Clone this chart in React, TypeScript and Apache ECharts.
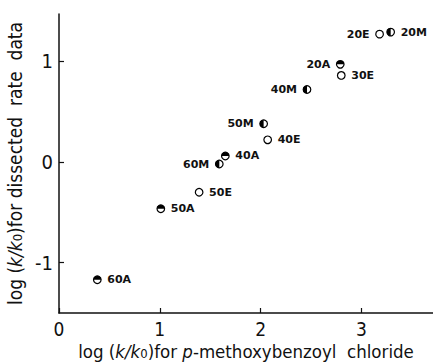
import React, { useEffect, useRef } from "react";
import * as echarts from "echarts";

const pointNames = ["60A", "50A", "50E", "60M", "40A", "40E", "50M", "40M", "30E", "20A", "20E", "20M"];
const xValues = [0.38, 1.01, 1.39, 1.59, 1.65, 2.07, 2.03, 2.46, 2.8, 2.79, 3.18, 3.29];
const yValues = [-1.17, -0.465, -0.3, -0.02, 0.06, 0.22, 0.38, 0.72, 0.86, 0.97, 1.27, 1.29];
// A = top half filled, M = left half filled, E = open
const markerKinds = ["A", "A", "E", "M", "A", "E", "M", "M", "E", "A", "E", "M"];
const labelSides = ["right", "right", "right", "left", "right", "right", "left", "left", "right", "left", "left", "right"];
const xTicks = [0, 1, 2, 3];
const yTicks = [-1, 0, 1];
const xTitle = "{n|log (}{i|k/k}{s|0}{n|)for }{i|p}{n|-methoxybenzoyl  chloride}";
const yTitle = "{n|log (}{i|k/k}{s|0}{n|)for dissected  rate  data}";

const titleFont = "'DejaVu Sans Condensed', 'DejaVu Sans', sans-serif";

function makeRich(size: number) {
  return {
    n: { fontFamily: titleFont, fontSize: size, fill: "#111", color: "#111", lineHeight: size + 1 },
    i: { fontFamily: titleFont, fontSize: size, fontStyle: "italic", fill: "#111", color: "#111", lineHeight: size + 1 },
    s: { fontFamily: titleFont, fontSize: Math.round(size * 0.68), fill: "#111", color: "#111", padding: [5, 0, 0, 0] },
  };
}

export default function App() {
  const ref = useRef<HTMLDivElement>(null);
  useEffect(() => {
    if (!ref.current) return;
    const chart = echarts.init(ref.current, null, { renderer: "svg" });
    const data = xValues.map((x, i) => [x, yValues[i]]);
    chart.setOption({
      animation: false,
      backgroundColor: "#fff",
      grid: { left: 59, right: 0, top: 14, bottom: 49, containLabel: false, outerBoundsMode: "none" },
      graphic: [
        {
          type: "text",
          x: 246,
          y: 351,
          style: {
            text: xTitle,
            rich: makeRich(18.5),
            align: "center",
            verticalAlign: "middle",
            fill: "#111",
          },
        },
      ],
      xAxis: {
        type: "value",
        min: 0,
        max: 3.71,
        splitLine: { show: false },
        axisLine: { show: true, onZero: false, lineStyle: { color: "#111", width: 1.5 } },
        axisTick: { show: true, inside: true, length: 5, customValues: xTicks, lineStyle: { color: "#111", width: 1.2 } },
        axisLabel: {
          show: true,
          customValues: xTicks,
          margin: 6,
          fontFamily: titleFont,
          fontSize: 19,
          lineHeight: 19,
          color: "#111",
          formatter: (v: number) => String(v),
        },
      },
      yAxis: {
        type: "value",
        min: -1.5,
        max: 1.47,
        splitLine: { show: false },
        axisLine: { show: true, onZero: false, lineStyle: { color: "#111", width: 1.5 } },
        axisTick: { show: true, inside: true, length: 5, customValues: yTicks, lineStyle: { color: "#111", width: 1.2 } },
        axisLabel: {
          show: true,
          customValues: yTicks,
          margin: 6,
          fontFamily: titleFont,
          fontSize: 20,
          color: "#111",
          formatter: (v: number) => String(v),
        },
        name: yTitle,
        nameLocation: "middle",
        nameRotate: 90,
        nameGap: 28,
        nameTextStyle: { rich: makeRich(19) },
      },
      series: [
        {
          type: "custom",
          data,
          encode: { x: 0, y: 1 },
          clip: false,
          renderItem: (params: any, api: any) => {
            const i = params.dataIndex;
            const p = api.coord([api.value(0), api.value(1)]);
            const r = 3.8;
            const kind = markerKinds[i];
            const side = labelSides[i];
            const children: any[] = [
              { type: "circle", shape: { cx: p[0], cy: p[1], r }, style: { fill: "#fff", stroke: "none" } },
            ];
            if (kind === "A") {
              children.push({
                type: "sector",
                shape: { cx: p[0], cy: p[1], r, r0: 0, startAngle: Math.PI, endAngle: Math.PI * 2, clockwise: true },
                style: { fill: "#000" },
              });
            } else if (kind === "M") {
              children.push({
                type: "sector",
                shape: { cx: p[0], cy: p[1], r, r0: 0, startAngle: Math.PI / 2, endAngle: (Math.PI * 3) / 2, clockwise: true },
                style: { fill: "#000" },
              });
            }
            children.push({
              type: "circle",
              shape: { cx: p[0], cy: p[1], r },
              style: { fill: "none", stroke: "#000", lineWidth: 1.2 },
            });
            children.push({
              type: "text",
              x: p[0] + (side === "right" ? 10 : -10),
              y: p[1],
              style: {
                text: pointNames[i],
                align: side === "right" ? "left" : "right",
                verticalAlign: "middle",
                fontFamily: "'DejaVu Sans', sans-serif",
                fontWeight: "bold",
                fontSize: 11,
                fill: "#111",
              },
            });
            return { type: "group", children };
          },
        },
      ],
    });
    return () => chart.dispose();
  }, []);
  return (
    <div
      ref={ref}
      style={{ position: "fixed", left: 0, top: 0, width: 433, height: 362, background: "#fff" }}
    />
  );
}
